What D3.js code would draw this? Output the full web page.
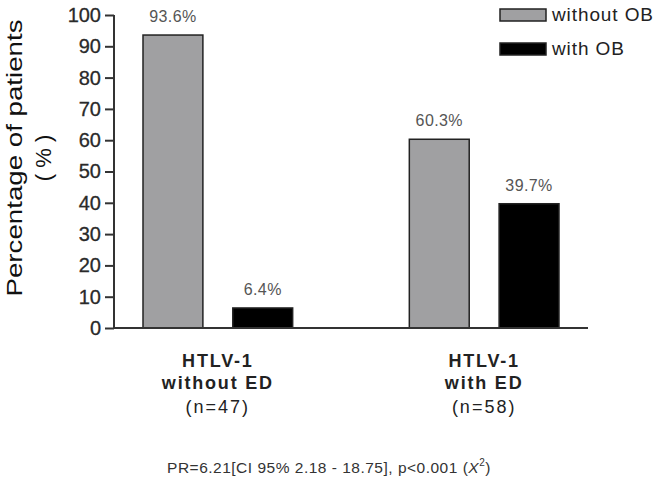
<!DOCTYPE html>
<html>
<head>
  <script src="https://d3js.org/d3.v7.min.js"></script>
  <style>
    body { margin: 0; background: #fff; font-family: "Liberation Sans", Arial, sans-serif; }
  </style>
</head>
<body>
<div id="chart"></div>
<script>
  const groups = ["without ED", "with ED"];
  const groupN = ["(n=47)", "(n=58)"];
  const series = ["without OB", "with OB"];
  const colors = ["#a0a0a2", "#000000"];
  const withoutOB = [93.6, 60.3];
  const withOB = [6.4, 39.7];
  const yTicks = [0, 10, 20, 30, 40, 50, 60, 70, 80, 90, 100];

  const width = 661, height = 480;
  const svg = d3.select("#chart").append("svg")
    .attr("width", width).attr("height", height);

  const y = d3.scaleLinear().domain([0, 100]).range([328, 15]);
  const x0 = d3.scaleBand().domain(groups).range([143, 559]).paddingInner(0.438).paddingOuter(0);
  const x1 = d3.scaleBand().domain(series).range([0, x0.bandwidth()]).paddingInner(0.333);

  const values = [withoutOB, withOB];

  // bars
  groups.forEach((g, gi) => {
    series.forEach((s, si) => {
      const v = values[si][gi];
      const bx = x0(g) + x1(s);
      svg.append("rect")
        .attr("x", bx)
        .attr("y", y(v))
        .attr("width", x1.bandwidth())
        .attr("height", y(0) - y(v))
        .attr("fill", colors[si])
        .attr("stroke", "#222")
        .attr("stroke-width", 1.5);
      svg.append("text")
        .attr("x", bx + x1.bandwidth() / 2)
        .attr("y", y(v) - 13)
        .attr("text-anchor", "middle")
        .attr("font-size", 16)
        .attr("letter-spacing", 0.4)
        .attr("fill", "#555")
        .text(v.toFixed(1) + "%");
    });
  });

  // y axis
  const yAxis = svg.append("g")
    .attr("transform", "translate(114,0)")
    .call(d3.axisLeft(y).tickValues(yTicks).tickSize(9).tickPadding(4));
  yAxis.selectAll("line, path").attr("stroke", "#333").attr("stroke-width", 2);
  yAxis.select(".domain").attr("d", `M0,${y(100)}V${y(0)}`);
  yAxis.selectAll("text").attr("font-size", 20).attr("fill", "#2a2a2a")
    .attr("stroke", "#2a2a2a").attr("stroke-width", 0.3)
    .attr("font-family", "Liberation Sans, Arial, sans-serif");

  // x baseline
  svg.append("line")
    .attr("x1", 114).attr("x2", 588)
    .attr("y1", y(0)).attr("y2", y(0))
    .attr("stroke", "#333").attr("stroke-width", 2);

  // y title
  const yt = svg.append("text")
    .attr("transform", "translate(22,158) rotate(-90)")
    .attr("text-anchor", "middle")
    .attr("font-size", 22)
    .attr("fill", "#111");
  yt.append("tspan").attr("x", 0).attr("dy", 0)
    .attr("textLength", 277).attr("lengthAdjust", "spacingAndGlyphs")
    .text("Percentage of patients");
  yt.append("tspan").attr("x", 0).attr("dy", 29).text("( % )");

  // group labels
  groups.forEach((g, gi) => {
    const cx = x0(g) + x0.bandwidth() / 2;
    const t = svg.append("text").attr("text-anchor", "middle").attr("fill", "#222");
    t.append("tspan").attr("x", cx).attr("y", 367).attr("font-weight", "bold")
      .attr("font-size", 18).attr("letter-spacing", 1.8).text("HTLV-1");
    t.append("tspan").attr("x", cx).attr("y", 389).attr("font-weight", "bold")
      .attr("font-size", 18).attr("letter-spacing", 1.8).text(g);
    t.append("tspan").attr("x", cx).attr("y", 413)
      .attr("font-size", 18).attr("letter-spacing", 2).text(groupN[gi]);
  });

  // legend
  series.forEach((s, si) => {
    const ly = 9 + si * 34;
    svg.append("rect")
      .attr("x", 500).attr("y", ly).attr("width", 46).attr("height", 12)
      .attr("fill", colors[si]).attr("stroke", "#222").attr("stroke-width", 1.5);
    svg.append("text")
      .attr("x", 552).attr("y", ly + 12)
      .attr("font-size", 19).attr("letter-spacing", 0.9).attr("fill", "#222")
      .text(s);
  });

  // footnote
  const fn = svg.append("text")
    .attr("x", 329).attr("y", 473)
    .attr("text-anchor", "middle")
    .attr("font-size", 15.5).attr("letter-spacing", 0.5).attr("fill", "#333");
  fn.append("tspan").text("PR=6.21[CI 95% 2.18 - 18.75], p<0.001 (");
  fn.append("tspan").attr("font-style", "italic").text("X");
  fn.append("tspan").attr("font-size", 10).attr("dy", -7).text("2");
  fn.append("tspan").attr("dy", 7).text(")");
</script>
</body>
</html>
